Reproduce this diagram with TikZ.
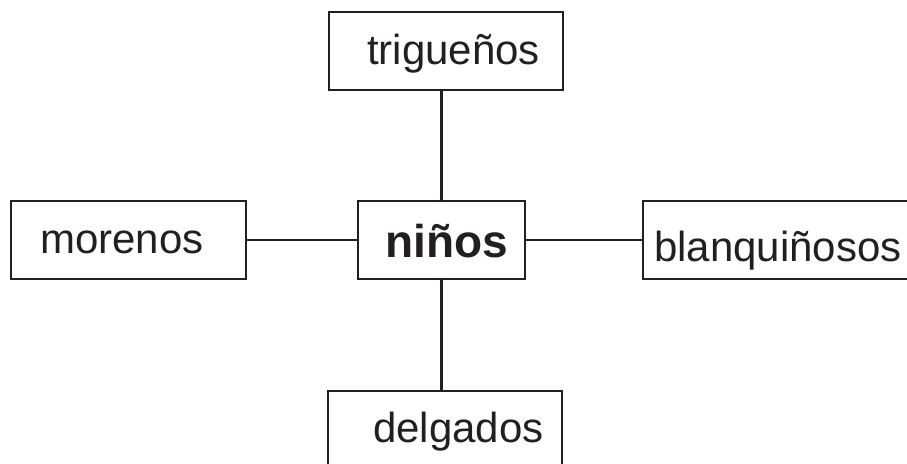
\documentclass[tikz,border=0pt]{standalone}
\usepackage{fontspec}
\setmainfont{Liberation Sans}
\definecolor{ink}{HTML}{231F20}
\begin{document}
\begin{tikzpicture}[x=1pt,y=-1pt,
  box/.style={draw=ink, line width=2.2pt, rectangle, inner sep=0pt},
  lbl/.style={anchor=base west, inner sep=0pt, text=ink, font=\fontsize{42}{50}\selectfont},
  blbl/.style={anchor=base west, inner sep=0pt, text=ink, font=\fontsize{46}{54}\selectfont\bfseries},
  conn/.style={draw=ink, line width=2.2pt}]
\useasboundingbox (0,0) rectangle (907,463);
% boxes
\node[box, minimum width=234pt, minimum height=78pt] (t) at (446,51) {};
\node[box, minimum width=167pt, minimum height=78pt] (n) at (441.5,240) {};
\node[box, minimum width=235pt, minimum height=78pt] (m) at (128.5,240) {};
\node[box, minimum width=277pt, minimum height=78pt] (b) at (781.5,240) {};
\node[box, minimum width=234pt, minimum height=89pt] (d) at (445,435.5) {};
% labels
\node[lbl] (tl) at (367,64) {trigueños};
\node[blbl] (nl) at (385,257) {niños};
\node[lbl] (ml) at (40,253) {morenos};
\node[lbl] (bl) at (654,261) {blanquiñosos};
\node[lbl] (dl) at (373,442) {delgados};
% connectors
\draw[conn] (n.north) -- (n.north |- t.south);
\draw[conn] (n.south) -- (n.south |- d.north);
\draw[conn] (m.east) -- (n.west);
\draw[conn] (n.east) -- (b.west);
\end{tikzpicture}
\end{document}
